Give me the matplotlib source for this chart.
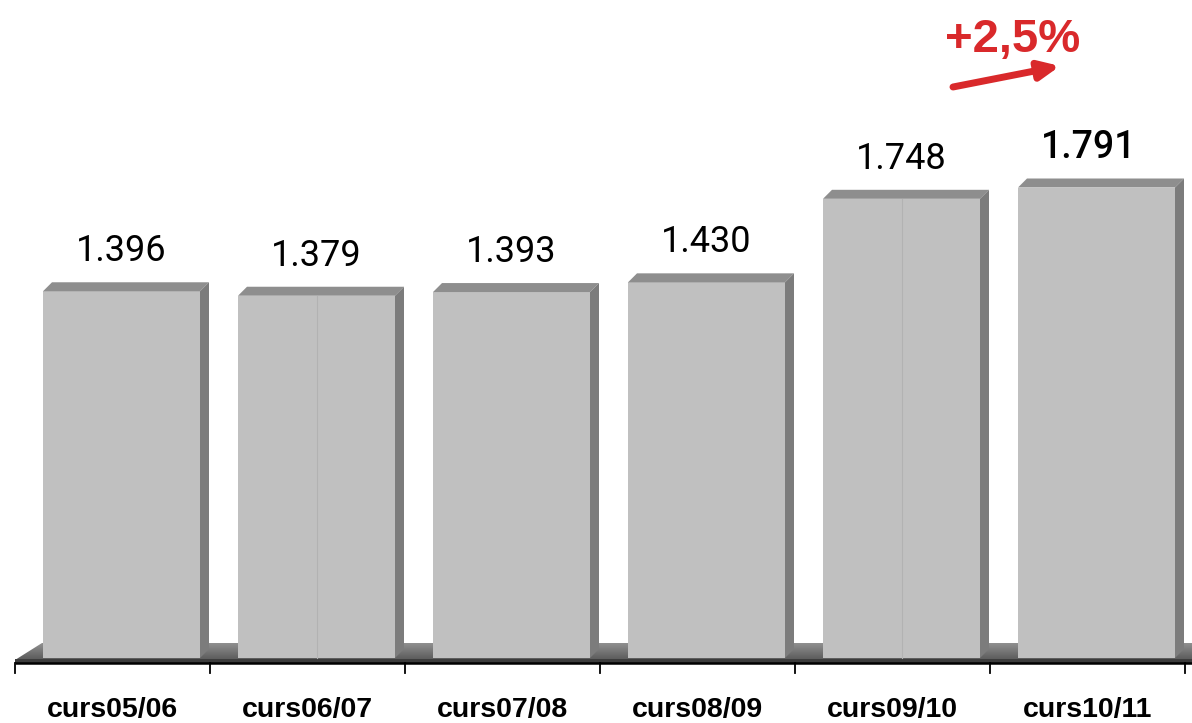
import numpy as np
import matplotlib
matplotlib.use("Agg")
import matplotlib.pyplot as plt
from matplotlib.patches import Polygon, Rectangle

# data
cursos = ['curs05/06', 'curs06/07', 'curs07/08', 'curs08/09', 'curs09/10', 'curs10/11']
alumnes = [1396, 1379, 1393, 1430, 1748, 1791]
etiquetes = ['1.396', '1.379', '1.393', '1.430', '1.748', '1.791']
bars_amb_linia = [1, 4]   # bars with a faint divider line in the middle
increment = '+2,5%'

# geometry (pixel based, figure is 1192x723 at 100 dpi)
W, H = 1192, 723
x0_px, cat_px = 15, 195          # first tick and category width in pixels
base_px = 658                    # pixel row of value 0
px_per_unit = 0.2627             # vertical scale

fig = plt.figure(figsize=(W / 100, H / 100), dpi=100)
ax = fig.add_axes([0, 0, 1, 1])
ax.set_xlim(-0.5 - x0_px / cat_px, -0.5 + (W - x0_px) / cat_px)
ax.set_ylim(-(H - base_px) / px_per_unit, base_px / px_per_unit)
ax.axis('off')

px_x = 1 / cat_px        # one pixel in x data units
px_y = 1 / px_per_unit   # one pixel in y data units

front_c, top_c, side_c = '#c0c0c0', '#8e8e8e', '#7c7c7c'
width = 157 * px_x
shift = 9 * px_x
dx, dy = 9 * px_x, 9 * px_y

# floor with gradient
xl, xr = ax.get_xlim()
floor_front = -2 * px_y
floor_back = 15 * px_y
floor = Polygon([(-0.5, floor_front), (-0.5 + 27 * px_x, floor_back),
                 (xr + 1, floor_back), (xr + 1, floor_front)],
                closed=True, facecolor='none', edgecolor='none')
ax.add_patch(floor)
grad = np.linspace(0, 1, 50).reshape(-1, 1)
im = ax.imshow(grad, cmap=matplotlib.colors.LinearSegmentedColormap.from_list('g', ['#5a5a5a', '#909090']),
               extent=[-0.5, xr + 1, floor_front, floor_back], origin='lower', aspect='auto', zorder=1)
im.set_clip_path(floor)
ax.add_patch(Rectangle((-0.5, -5 * px_y), xr + 1, 4 * px_y, facecolor='#3c3c3c', edgecolor='none', zorder=1))

# bars
for i, v in enumerate(alumnes):
    left = i - width / 2 + shift
    right = left + width
    ax.add_patch(Rectangle((left, 0), width, v, facecolor=front_c, edgecolor='none', zorder=3))
    ax.add_patch(Polygon([(left, v), (left + dx, v + dy), (right + dx, v + dy), (right, v)],
                         closed=True, facecolor=top_c, edgecolor='none', zorder=3))
    ax.add_patch(Polygon([(right, 0), (right + dx, dy), (right + dx, v + dy), (right, v)],
                         closed=True, facecolor=side_c, edgecolor='none', zorder=3))
    if i in bars_amb_linia:
        ax.plot([left + width / 2] * 2, [0, v], color='#b2b2b2', lw=0.8, zorder=4)
    bold = i == len(alumnes) - 1
    ax.text(i + shift - (8 * px_x if bold else 0), v + 30 * px_y, etiquetes[i], ha='center', va='baseline',
            fontsize=27 if bold else 26, fontweight='medium' if bold else 'normal',
            family='Roboto', color='black', zorder=5)
    ax.text(i, -59 * px_y, cursos[i], ha='center', va='baseline', fontsize=20.5,
            fontweight='bold', family='Liberation Sans', color='black')

# axis line and ticks
ax.plot([-0.5, xr + 1], [-4.5 * px_y, -4.5 * px_y], color='black', lw=1.8, zorder=6, solid_capstyle='butt')
for t in np.arange(len(cursos) + 1) - 0.5:
    ax.plot([t, t], [-4.5 * px_y, -15 * px_y], color='black', lw=1.3, zorder=6)

# increment annotation
ax.annotate('', xy=(1060, H - 66), xycoords='figure pixels',
            xytext=(953, H - 87), textcoords='figure pixels',
            arrowprops=dict(arrowstyle='-|>,head_length=1.2,head_width=0.55', color='#d9292b', lw=5,
                            shrinkA=0, shrinkB=0))
ax.text(1013, H - 52, increment, transform=None, ha='center', va='baseline',
        fontsize=34, fontweight='bold', family='Liberation Sans', color='#d9292b')

fig.savefig('out.png', dpi=100)
